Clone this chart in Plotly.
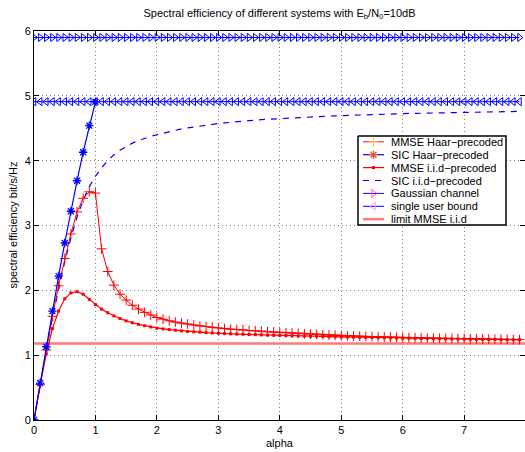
import plotly.graph_objects as go

# ---------------- data ----------------
alpha = [round(i * 0.1, 1) for i in range(80)]          # 0 .. 7.9
alpha_sic_haar = [round(i * 0.1, 1) for i in range(11)]  # 0 .. 1.0

mmse_haar = [0, 0.55, 1.08, 1.60, 2.07, 2.49, 2.87, 3.21, 3.42, 3.52,
             3.50, 2.64, 2.29, 2.08, 1.94, 1.85, 1.77, 1.71, 1.66, 1.62,
             1.58, 1.555, 1.53, 1.51, 1.495, 1.48, 1.465, 1.45, 1.44, 1.43,
             1.42, 1.41, 1.40, 1.395, 1.39, 1.38, 1.375, 1.37, 1.36, 1.355,
             1.35, 1.345, 1.34, 1.335, 1.33, 1.325, 1.32, 1.315, 1.31, 1.305,
             1.30, 1.298, 1.295, 1.292, 1.29, 1.287, 1.284, 1.281, 1.278, 1.275,
             1.272, 1.27, 1.268, 1.266, 1.264, 1.262, 1.26, 1.259, 1.258, 1.257,
             1.255, 1.253, 1.251, 1.249, 1.247, 1.246, 1.245, 1.243, 1.241, 1.24]

sic_haar = [0, 0.57, 1.13, 1.68, 2.22, 2.73, 3.22, 3.69, 4.13, 4.54, 4.91]

mmse_iid = [0, 0.55, 1.02, 1.41, 1.68, 1.87, 1.96, 1.98, 1.94, 1.86,
            1.78, 1.71, 1.655, 1.605, 1.565, 1.53, 1.50, 1.475, 1.455, 1.435,
            1.415, 1.405, 1.395, 1.385, 1.375, 1.365, 1.36, 1.355, 1.348, 1.342,
            1.337, 1.333, 1.329, 1.325, 1.322, 1.319, 1.316, 1.313, 1.31, 1.307,
            1.305, 1.302, 1.30, 1.297, 1.295, 1.292, 1.29, 1.288, 1.286, 1.284,
            1.282, 1.28, 1.278, 1.276, 1.274, 1.272, 1.27, 1.268, 1.266, 1.264,
            1.262, 1.26, 1.258, 1.256, 1.255, 1.253, 1.252, 1.25, 1.249, 1.248,
            1.246, 1.245, 1.244, 1.243, 1.242, 1.241, 1.24, 1.239, 1.238, 1.237]

sic_iid = [0, 0.55, 1.08, 1.58, 2.03, 2.44, 2.81, 3.13, 3.39, 3.60,
           3.76, 3.89, 4.00, 4.09, 4.16, 4.22, 4.27, 4.31, 4.345, 4.375,
           4.40, 4.425, 4.45, 4.47, 4.49, 4.505, 4.52, 4.535, 4.55, 4.562,
           4.573, 4.583, 4.593, 4.602, 4.61, 4.618, 4.625, 4.632, 4.638, 4.644,
           4.65, 4.655, 4.66, 4.665, 4.67, 4.675, 4.68, 4.684, 4.688, 4.692,
           4.696, 4.70, 4.703, 4.706, 4.709, 4.712, 4.715, 4.718, 4.72, 4.723,
           4.725, 4.728, 4.73, 4.732, 4.734, 4.736, 4.738, 4.74, 4.742, 4.744,
           4.746, 4.748, 4.75, 4.751, 4.753, 4.754, 4.756, 4.757, 4.758, 4.76]

gaussian_channel_value = 5.90
single_user_bound_value = 4.91
limit_mmse_iid_value = 1.18
limit_x = [0, 8]

x_ticks = [0, 1, 2, 3, 4, 5, 6, 7]
y_ticks = [0, 1, 2, 3, 4, 5, 6]

legend_names = ["MMSE Haar−precoded", "SIC Haar−precoded", "MMSE i.i.d−precoded",
                "SIC i.i.d−precoded", "Gaussian channel", "single user bound",
                "limit MMSE i.i.d"]

# ---------------- styles ----------------
RED = "#ff0000"
BLUE = "#0000ff"
PINK = "#ff7a7a"
FONT = "Liberation Sans, Arial, sans-serif"

W, H = 525, 452
L, R, T, B = 34, 0, 31, 32

styles = [
    dict(mode="lines+markers", line=dict(color=RED, width=1),
         marker=dict(symbol="cross-thin-open", size=7, line=dict(color=RED, width=1))),
    dict(mode="lines+markers", line=dict(color=BLUE, width=1.2),
         marker=dict(symbol="asterisk-open", size=7, line=dict(color=BLUE, width=1.3))),
    dict(mode="lines+markers", line=dict(color=RED, width=1.2),
         marker=dict(symbol="square", size=3, color=RED, line=dict(width=0))),
    dict(mode="lines", line=dict(color=BLUE, width=1.2, dash="6px,6px")),
    dict(mode="lines+markers", line=dict(color=BLUE, width=1),
         marker=dict(symbol="triangle-right-open", size=7, line=dict(color=BLUE, width=1))),
    dict(mode="lines+markers", line=dict(color=BLUE, width=1),
         marker=dict(symbol="triangle-left-open", size=7, line=dict(color=BLUE, width=1))),
    dict(mode="lines", line=dict(color=PINK, width=2.5)),
]

fig = go.Figure()

series = [
    (alpha, mmse_haar),
    (alpha_sic_haar, sic_haar),
    (alpha, mmse_iid),
    (alpha, sic_iid),
    (alpha, [gaussian_channel_value] * len(alpha)),
    (alpha, [single_user_bound_value] * len(alpha)),
    (limit_x, [limit_mmse_iid_value] * len(limit_x)),
]
draw_order = [6, 4, 5, 3, 2, 0, 1]
for i in draw_order:
    xs, ys = series[i]
    fig.add_trace(go.Scatter(x=xs, y=ys, name=legend_names[i], showlegend=False,
                             cliponaxis=True, **styles[i]))

# ---------------- manual legend (pixel coords on overlay axes) ----------------
box_l, box_r, box_t, box_b = 358, 506, 136, 225
row0, row_step = 141.8, 12.9
samp_l, samp_r, text_x = 363, 384, 389

# white box with black frame
fig.add_trace(go.Scatter(x=[box_l, box_r, box_r, box_l, box_l],
                         y=[box_t, box_t, box_b, box_b, box_t],
                         mode="lines", fill="toself", fillcolor="white",
                         line=dict(color="black", width=1.5),
                         xaxis="x2", yaxis="y2", showlegend=False, hoverinfo="skip"))

for i, name in enumerate(legend_names):
    yy = row0 + i * row_step
    st = styles[i]
    fig.add_trace(go.Scatter(x=[samp_l, samp_r], y=[yy, yy], mode="lines",
                             line=st["line"], xaxis="x2", yaxis="y2",
                             showlegend=False, hoverinfo="skip"))
    if st["mode"] == "lines+markers":
        fig.add_trace(go.Scatter(x=[(samp_l + samp_r) / 2], y=[yy], mode="markers",
                                 marker=st["marker"], xaxis="x2", yaxis="y2",
                                 showlegend=False, hoverinfo="skip"))
    fig.add_annotation(x=text_x, y=yy, xref="x2", yref="y2", text=name,
                       showarrow=False, xanchor="left", yanchor="middle",
                       font=dict(family=FONT, size=11, color="black"))

axis_common = dict(showline=True, linecolor="black", linewidth=1, mirror="ticks",
                   ticks="inside", ticklen=5, tickcolor="black",
                   showgrid=True, gridcolor="#808080", griddash="1px,3px", gridwidth=1,
                   zeroline=False, tickfont=dict(family=FONT, size=11, color="black"))

fig.update_layout(
    width=W, height=H,
    margin=dict(l=L, r=R, t=T, b=B, autoexpand=False),
    paper_bgcolor="white", plot_bgcolor="white",
    showlegend=False,
    title=dict(text="Spectral efficiency of different systems with E<sub>b</sub>/N<sub>0</sub>=10dB",
               x=(L + W - R) / 2 / W, xanchor="center", y=1 - 13 / H, yanchor="middle",
               yref="container", font=dict(family=FONT, size=11, color="black")),
    xaxis=dict(range=[0, 7.99], tickvals=x_ticks, **axis_common),
    yaxis=dict(range=[0, 6], tickvals=y_ticks, **axis_common),
    xaxis2=dict(overlaying="x", range=[L, W - R], visible=False, fixedrange=True),
    yaxis2=dict(overlaying="y", range=[H - B, T], visible=False, fixedrange=True),
)

fig.add_annotation(x=0.5, y=-(443 - (H - B)) / (H - B - T), xref="paper", yref="paper",
                   text="alpha", showarrow=False, xanchor="center", yanchor="middle",
                   font=dict(family=FONT, size=11, color="black"))
fig.add_annotation(x=(12 - L) / (W - L - R), y=0.5, xref="paper", yref="paper",
                   text="spectral efficiency bit/s/Hz", showarrow=False, textangle=-90,
                   xanchor="center", yanchor="middle",
                   font=dict(family=FONT, size=11, color="black"))

fig.write_html("out.html", config={"displayModeBar": False},
               post_script="document.body.style.margin='0px';document.body.style.overflow='hidden';")
